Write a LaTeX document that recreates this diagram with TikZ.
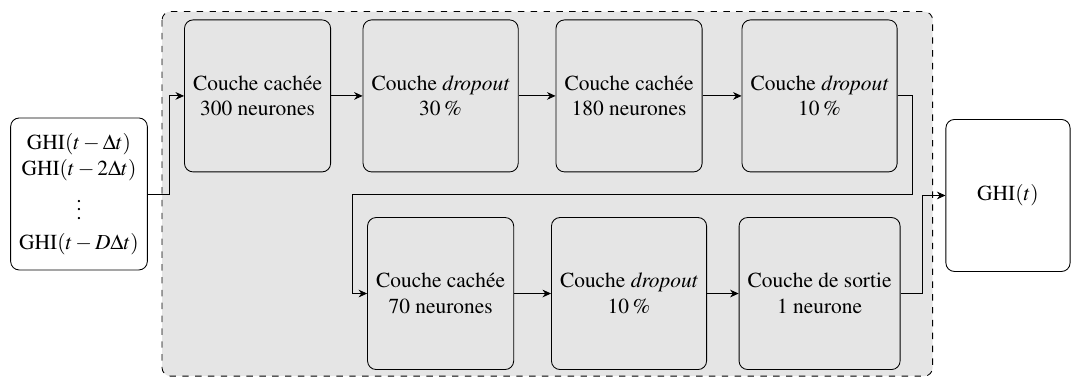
\documentclass[tikz,border=0pt]{standalone}
\usepackage[T1]{fontenc}
\usepackage{mathptmx}
\usetikzlibrary{arrows.meta, positioning, calc, backgrounds}

\tikzset{
  couche/.style={draw, rounded corners=4pt, align=center,
    minimum height=71pt, inner xsep=4pt},
  flow/.style={-{Stealth[length=4pt,width=3.6pt]}},
}

\begin{document}
\begin{tikzpicture}
    \useasboundingbox (0,0) rectangle (500.7pt,-176.1pt);
    % entree et sortie
    \node[couche, fill=white] (entree) at (36.9pt,-90.6pt)
      {GHI$(t-\Delta t)$\\GHI$(t-2\Delta t)$\\[2pt]$\vdots$\\[2pt]GHI$(t-D\Delta t)$};
    \node[couche, fill=white, minimum width=58pt] (sortie) at (470.8pt,-91.3pt) {GHI$(t)$};
    % premiere rangee
    \node[couche] (c1) at (120.3pt,-44.8pt) {Couche cach\'ee\\300 neurones};
    \node[couche] (c2) at (205.8pt,-44.8pt) {Couche \emph{dropout}\\30\,\%};
    \node[couche] (c3) at (293.8pt,-44.8pt) {Couche cach\'ee\\180 neurones};
    \node[couche] (c4) at (382.8pt,-44.8pt) {Couche \emph{dropout}\\10\,\%};
    % deuxieme rangee
    \node[couche] (c5) at (205.8pt,-137.1pt) {Couche cach\'ee\\70 neurones};
    \node[couche] (c6) at (293.8pt,-137.1pt) {Couche \emph{dropout}\\10\,\%};
    \node[couche] (c7) at (382.8pt,-137.1pt) {Couche de sortie\\1 neurone};

    \begin{scope}[on background layer]
      \draw[dashed, fill=gray!20, rounded corners=4pt]
        ($(c1.north west)+(-10.3pt,3.7pt)$) rectangle ($(c7.south east)+(15pt,-2.9pt)$);
    \end{scope}

    \draw[flow] (entree.east) -- ++(10.3pt,0) |- (c1.west);
    \draw[flow] (c1) -- (c2);
    \draw[flow] (c2) -- (c3);
    \draw[flow] (c3) -- (c4);
    \draw[flow] (c4.east) -- ++(7pt,0)
      |- ($(c4.south)!.5!(c7.north)$) coordinate (retour)
      -| ($(c5.west)+(-7pt,0)$) -- (c5.west);
    \draw[flow] (c5) -- (c6);
    \draw[flow] (c6) -- (c7);
    \draw[flow] (c7.east) -- ++(10.3pt,0) |- (sortie.west);
\end{tikzpicture}
\end{document}
